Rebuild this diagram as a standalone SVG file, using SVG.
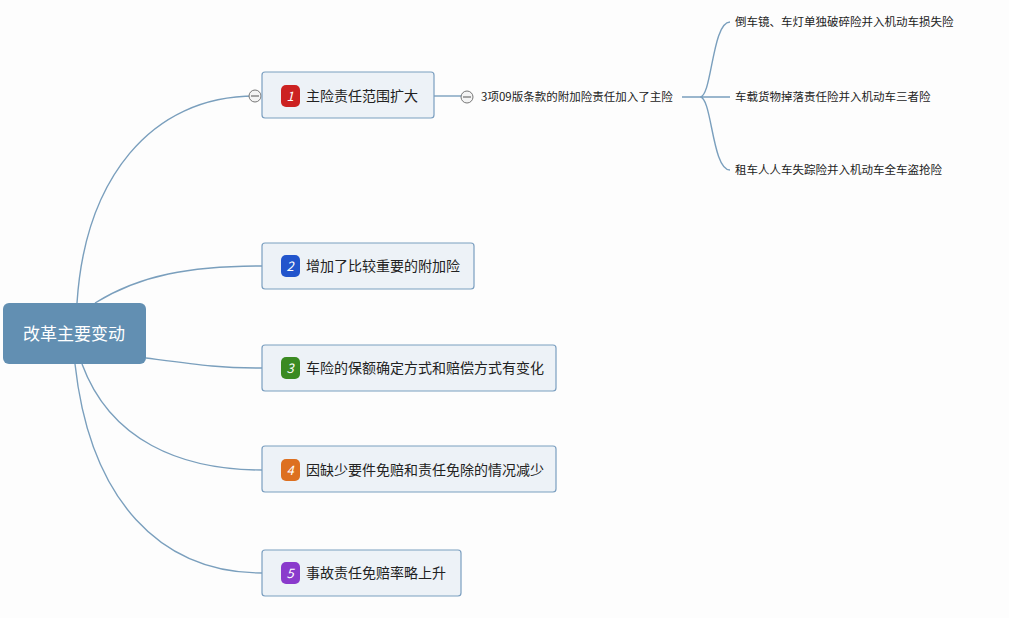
<svg xmlns="http://www.w3.org/2000/svg" width="1009" height="618" viewBox="0 0 1009 618">
<defs>
<style>
text{font-family:"Noto Sans CJK SC","Liberation Sans",sans-serif}
.node{fill:#edf2f7;stroke:#7b9fc0;stroke-width:1.2}
.lbl{font-size:14px;fill:#222}
.small{font-size:11.5px;fill:#222}
.c{fill:none;stroke:#7a9fbd;stroke-width:1.4}
.col{fill:#f4f4f4;stroke:#777;stroke-width:1}
.num{font-size:13px;fill:#fff;font-style:italic;text-anchor:middle}
</style>
</defs>
<rect width="1009" height="618" fill="#fdfdfd"/>
<g id="connectors">
<path class="c" d="M77,303 C85,180 150,96 255,96"/>
<path class="c" d="M95,303 C140,275 190,266 262,266"/>
<path class="c" d="M146,358 C200,365 220,368 262,368"/>
<path class="c" d="M82,364 C110,440 180,470 262,470"/>
<path class="c" d="M75,364 C90,500 160,573 262,573"/>
<path class="c" d="M434,96 L462,96"/>
<path class="c" d="M682,97 L700,97 M700,97 C712,97 712,22 730,22 M700,97 L730,97 M700,97 C712,97 712,170 730,170"/>
<circle class="col" cx="255" cy="96" r="6"/><path d="M251,96h8" stroke="#555"/>
<circle class="col" cx="467" cy="97" r="6"/><path d="M463,97h8" stroke="#555"/>
</g>
<g id="root">
<rect x="3" y="303" width="143" height="61" rx="6" fill="#628fb2"/>
<text x="74" y="340" font-size="17" fill="#fff" text-anchor="middle">改革主要变动</text>
</g>
<g id="n1">
<rect class="node" x="262" y="72" width="172" height="46" rx="3"/>
<rect x="281" y="85" width="19" height="22" rx="5" fill="#cc2222"/><text class="num" x="290" y="101">1</text>
<text class="lbl" x="306" y="101">主险责任范围扩大</text>
</g>
<g id="n2">
<rect class="node" x="262" y="243" width="212" height="46" rx="3"/>
<rect x="281" y="255" width="19" height="22" rx="5" fill="#2255cc"/><text class="num" x="290" y="271">2</text>
<text class="lbl" x="306" y="271">增加了比较重要的附加险</text>
</g>
<g id="n3">
<rect class="node" x="262" y="345" width="294" height="46" rx="3"/>
<rect x="281" y="357" width="19" height="22" rx="5" fill="#3a8a22"/><text class="num" x="290" y="373">3</text>
<text class="lbl" x="306" y="373">车险的保额确定方式和赔偿方式有变化</text>
</g>
<g id="n4">
<rect class="node" x="262" y="446" width="294" height="46" rx="3"/>
<rect x="281" y="459" width="19" height="22" rx="5" fill="#dd7020"/><text class="num" x="290" y="475">4</text>
<text class="lbl" x="306" y="475">因缺少要件免赔和责任免除的情况减少</text>
</g>
<g id="n5">
<rect class="node" x="262" y="550" width="199" height="46" rx="3"/>
<rect x="281" y="562" width="19" height="22" rx="5" fill="#8a3acc"/><text class="num" x="290" y="578">5</text>
<text class="lbl" x="306" y="578">事故责任免赔率略上升</text>
</g>
<g id="sub1"><text class="small" x="481" y="101">3项09版条款的附加险责任加入了主险</text></g>
<g id="leaf1"><text class="small" x="735" y="26">倒车镜、车灯单独破碎险并入机动车损失险</text></g>
<g id="leaf2"><text class="small" x="735" y="101">车载货物掉落责任险并入机动车三者险</text></g>
<g id="leaf3"><text class="small" x="735" y="174">租车人人车失踪险并入机动车全车盗抢险</text></g>
</svg>
